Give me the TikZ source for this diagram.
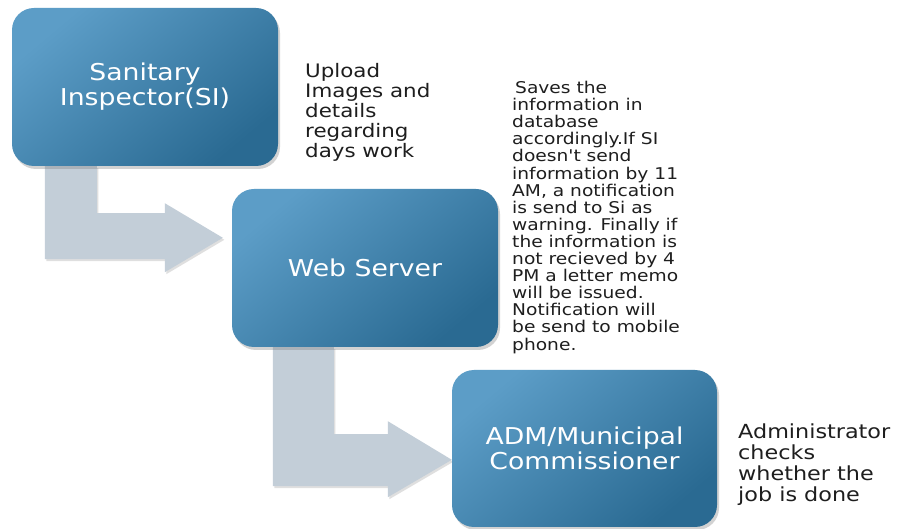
\documentclass[tikz,border=0pt]{standalone}
\usepackage{fontspec}
\usetikzlibrary{calc,shadows,backgrounds}
\newfontfamily\dv[FakeStretch=1.15]{DejaVu Sans}
\definecolor{boxlight}{HTML}{5C9DC7}
\definecolor{boxdark}{HTML}{2A6A92}
\definecolor{arrowfill}{HTML}{C3CED8}
\definecolor{txt}{HTML}{1E1E1E}
\tikzset{
  stagebox/.style={rectangle, rounded corners=22pt, minimum width=266pt, minimum height=158pt,
    top color=boxlight, bottom color=boxdark, shading angle=40, draw=none,
    drop shadow={opacity=0.35, shadow xshift=2pt, shadow yshift=-3pt},
    text=white, align=center, inner sep=0pt,
    font=\dv\fontsize{23.2}{25}\selectfont},
  flowarrow/.style={fill=arrowfill, draw=none,
    drop shadow={opacity=0.25, shadow xshift=1.5pt, shadow yshift=-2pt}},
  note/.style={anchor=north west, align=left, inner sep=0pt, text=txt}
}
\begin{document}
\begin{tikzpicture}[x=1pt, y=-1pt]
\useasboundingbox (0,0) rectangle (898,529);
\node[stagebox] (b1) at (145,87) {Sanitary\\Inspector(SI)};
\node[stagebox] (b2) at (365,268) {Web Server};
\node[stagebox, minimum width=265pt, minimum height=157pt] (b3) at (584.5,448.5) {ADM/Municipal\\Commissioner};
\begin{scope}[on background layer]
\fill[white] (0,0) rectangle (898,529);
\draw[flowarrow] ($(b1.south west)+(33,0)$) -- ($(b1.south west)+(85,0)$) -- ($(b1.south west)+(85,47)$)
  -- ($(b1.south west)+(153,47)$) -- ($(b1.south west)+(153,37)$) -- ($(b2.north west)+(-9,49)$)
  -- ($(b1.south west)+(153,106)$) -- ($(b1.south west)+(153,93)$) -- ($(b1.south west)+(33,93)$) -- cycle;
\draw[flowarrow] ($(b2.south west)+(41,0)$) -- ($(b2.south west)+(102,0)$) -- ($(b2.south west)+(102,87)$)
  -- ($(b2.south west)+(156,87)$) -- ($(b2.south west)+(156,74)$) -- ($(b3.north west)+(0,90)$)
  -- ($(b2.south west)+(156,150)$) -- ($(b2.south west)+(156,139)$) -- ($(b2.south west)+(41,139)$) -- cycle;
\end{scope}
\node[note, font=\dv\fontsize{18.6}{20}\selectfont] (t1) at (305,63)
  {Upload\\Images and\\details\\regarding\\days work};
\node[note, font=\dv\fontsize{16.2}{17.1}\selectfont] (t2) at (512,81)
  {\hspace{3pt}Saves the\\information in\\database\\accordingly.If SI\\doesn't send\\information by 11\\AM, a notification\\is send to Si as\\warning. Finally if\\the information is\\not recieved by 4\\PM a letter memo\\will be issued.\\Notification will\\be send to mobile\\phone.};
\node[note, font=\dv\fontsize{19.4}{21}\selectfont] (t3) at (738,424)
  {Administrator\\checks\\whether the\\job is done};
\end{tikzpicture}
\end{document}
